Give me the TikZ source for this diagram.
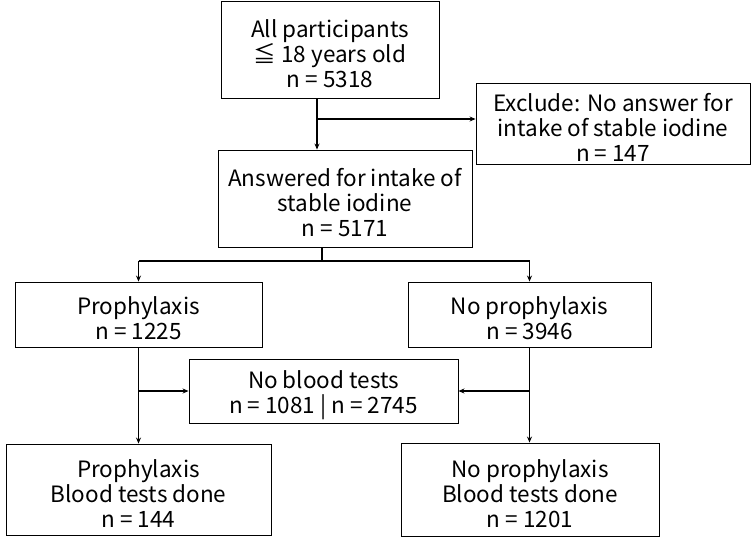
\documentclass[tikz,border=0pt]{standalone}
\usepackage{fontspec}
\setmainfont{Noto Sans CJK JP}
\usetikzlibrary{arrows.meta}
\newcommand{\topstrut}{\rule{0pt}{26pt}}
\begin{document}
\begin{tikzpicture}[x=1pt,y=-1pt,
 box/.style={draw, line width=0.9pt, align=center, inner sep=0pt, font=\fontsize{22.5}{25}\selectfont},
 arr/.style={line width=1.5pt, -{Stealth[length=6pt,width=5pt]}},
 ln/.style={line width=1.5pt}]
\useasboundingbox (0,0) rectangle (752,541);
\node[box, minimum width=218pt, minimum height=97pt] (top) at (330,49.5) {\topstrut All participants\\≦ 18 years old\\n = 5318};
\node[box, minimum width=274pt, minimum height=81pt] (excl) at (613,123.5) {\topstrut Exclude: No answer for\\intake of stable iodine\\n = 147};
\node[box, minimum width=254pt, minimum height=97pt] (ans) at (345,198.5) {\topstrut Answered for intake of\\stable iodine\\n = 5171};
\node[box, minimum width=247pt, minimum height=65pt] (pro) at (138.5,314.5) {\topstrut Prophylaxis\\n = 1225};
\node[box, minimum width=243pt, minimum height=65pt] (nopro) at (529.5,314.5) {\topstrut No prophylaxis\\n = 3946};
\node[box, minimum width=269pt, minimum height=64pt] (nob) at (323.5,391) {\topstrut No blood tests\\n = 1081 | n = 2745};
\node[box, minimum width=265pt, minimum height=91pt] (pbt) at (138.5,489.5) {\topstrut Prophylaxis\\Blood tests done\\n = 144};
\node[box, minimum width=258pt, minimum height=93pt] (npbt) at (530,489.5) {\topstrut No prophylaxis\\Blood tests done\\n = 1201};
\coordinate (j1) at (317,119);
\draw[ln] (top.south -| j1) -- (j1);
\draw[arr] (j1) -- (j1 -| excl.west);
\draw[arr] (j1) -- (j1 |- ans.north);
\coordinate (j2) at (322,261);
\coordinate (bl) at (138.5,261);
\coordinate (br) at (529.5,261);
\draw[ln] (ans.south -| j2) -- (j2);
\draw[ln] (bl) -- (br);
\draw[arr] (bl) -- (pro.north);
\draw[arr] (br) -- (nopro.north);
\draw[arr] (pro.south) -- (pbt.north);
\draw[arr] (pro.south |- nob.west) -- (nob.west);
\draw[arr] (nopro.south) -- (npbt.north -| nopro.south);
\draw[arr] (nopro.south |- nob.east) -- (nob.east);
\end{tikzpicture}
\end{document}
